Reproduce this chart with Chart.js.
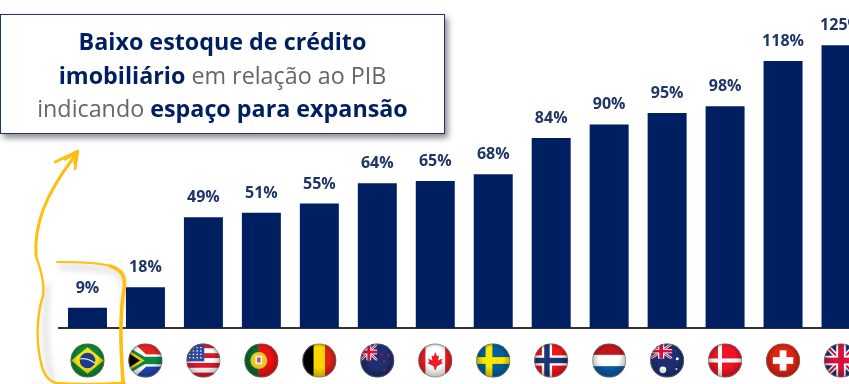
<!DOCTYPE html>
<html>
<head>
<meta charset="utf-8">
<script src="https://cdn.jsdelivr.net/npm/chart.js@4"></script>
<style>
  html, body { margin: 0; padding: 0; width: 849px; height: 384px; overflow: hidden; background: #fff; }
  #wrap { position: absolute; left: 0; top: 0; width: 900px; height: 384px; }
  #note {
    position: absolute; left: 0; top: 14px; width: 443px; height: 108px;
    border: 1px solid #1f3468; background: #fff; box-shadow: 3px 4px 6px rgba(0,0,0,.45);
    font: 23.3px/33.5px "Open Sans", sans-serif; color: #666; text-align: center;
    padding-top: 10px; white-space: nowrap;
  }
  #note b { color: #001f60; }
  #doodle { position: absolute; left: 0; top: 0; pointer-events: none; }
</style>
</head>
<body>
<div id="wrap">
  <canvas id="chart" width="900" height="384"></canvas>
</div>
<div id="note">
  <b>Baixo estoque de crédito</b><br>
  <b>imobiliário</b> em relação ao PIB<br>
  indicando <b>espaço para expansão</b>
</div>
<svg id="doodle" width="849" height="384" fill="none" stroke="#fdbf12" stroke-linecap="round" stroke-linejoin="round">
  <defs>
    <filter id="soft" x="-30%" y="-10%" width="170%" height="130%"><feGaussianBlur stdDeviation="3"/></filter>
  </defs>
  <!-- sombra do contorno -->
  <path stroke="#000" stroke-opacity=".22" stroke-width="3" filter="url(#soft)" d="M60 267 C85 267 105 268 116 272 C127 278 125 290 123 305 M47 285 C46 310 42 345 52 380"/>
  <path stroke-width="1.8" d="M57 262 C80 262 100 263 110 266"/>
  <path stroke-width="3.6" d="M110 266 C123 270 126 277 124 290 C120 310 120 340 123 382 L124 383"/>
  <path stroke-width="2.4" d="M123 383 C100 384 72 384 56 383 C46 380 42 372 39 352 C36 335 38 310 43 296 C45 282 40 268 36 256"/>
  <path stroke-width="3" d="M36 256 C34 225 45 195 74 157"/>
  <path stroke-width="2.6" d="M55 162 L78 151 L75 169"/>
  <path stroke-width="3.4" d="M65 159 L77 152 L75 163"/>
</svg>
<script>
const countries = ['Brasil', 'África do Sul', 'EUA', 'Portugal', 'Bélgica', 'Nova Zelândia', 'Canadá', 'Suécia', 'Noruega', 'Holanda', 'Austrália', 'Dinamarca', 'Suíça', 'Reino Unido'];
const creditoPib = [9, 18, 49, 51, 55, 64, 65, 68, 84, 90, 95, 98, 118, 125];

const NAVY = '#001f60';

// each flag drawn inside a unit circle, x and y from -1 to 1
function bands(c, cols, vertical) {
  const n = cols.length;
  cols.forEach((col, i) => {
    c.fillStyle = col;
    if (vertical) c.fillRect(-1 + 2 * i / n, -1, 2 / n + .01, 2);
    else c.fillRect(-1, -1 + 2 * i / n, 2, 2 / n + .01);
  });
}
function cross(c, bg, col, w, inner, w2, cx) {
  c.fillStyle = bg; c.fillRect(-1, -1, 2, 2);
  c.fillStyle = col; c.fillRect(-1, -w, 2, 2 * w); c.fillRect(cx - w, -1, 2 * w, 2);
  if (inner) { c.fillStyle = inner; c.fillRect(-1, -w2, 2, 2 * w2); c.fillRect(cx - w2, -1, 2 * w2, 2); }
}
function poly(c, col, pts) {
  c.fillStyle = col; c.beginPath();
  pts.forEach((p, i) => i ? c.lineTo(p[0], p[1]) : c.moveTo(p[0], p[1]));
  c.closePath(); c.fill();
}
function jack(c, x, y, w, h) {
  c.save(); c.translate(x, y); c.scale(w, h);
  c.beginPath(); c.rect(-1, -1, 2, 2); c.clip();
  c.fillStyle = '#1c2f72'; c.fillRect(-1, -1, 2, 2);
  c.lineWidth = .3; c.strokeStyle = '#fff';
  c.beginPath(); c.moveTo(-1, -1); c.lineTo(1, 1); c.moveTo(1, -1); c.lineTo(-1, 1); c.stroke();
  c.lineWidth = .12; c.strokeStyle = '#d4123c'; c.stroke();
  c.fillStyle = '#fff'; c.fillRect(-1, -.28, 2, .56); c.fillRect(-.28, -1, .56, 2);
  c.fillStyle = '#d4123c'; c.fillRect(-1, -.17, 2, .34); c.fillRect(-.17, -1, .34, 2);
  c.restore();
}
const flags = [
  c => { c.fillStyle = '#0f8a34'; c.fillRect(-1, -1, 2, 2);
    poly(c, '#f7e017', [[-.95, 0], [0, -.78], [.95, 0], [0, .78]]);
    c.fillStyle = '#1d3c8c'; c.beginPath(); c.arc(0, 0, .46, 0, 7); c.fill();
    c.strokeStyle = '#ddd'; c.lineWidth = .07; c.beginPath(); c.moveTo(-.44, -.1); c.quadraticCurveTo(0, -.15, .44, .15); c.stroke(); },
  c => { bands(c, ['#e8231f', '#fff', '#1f45b8'], false);
    poly(c, '#fff', [[-1, -1], [-.65, -1], [.05, -.36], [1, -.36], [1, .36], [.05, .36], [-.65, 1], [-1, 1]]);
    poly(c, '#0a8a40', [[-1, -.78], [-.05, -.22], [1, -.22], [1, .22], [-.05, .22], [-1, .78]]);
    poly(c, '#f5c518', [[-1, -.62], [-.05, 0], [-1, .62]]);
    poly(c, '#000', [[-1, -.44], [-.32, 0], [-1, .44]]); },
  c => { bands(c, ['#e0162b', '#fff', '#e0162b', '#fff', '#e0162b', '#fff', '#e0162b'], false);
    c.fillStyle = '#33499a'; c.fillRect(-1, -1, 1.05, 1.05);
    c.fillStyle = '#fff'; for (let i = 0; i < 4; i++) for (let j = 0; j < 4; j++) c.fillRect(-.85 + i * .22, -.8 + j * .2, .08, .08); },
  c => { c.fillStyle = '#0b6a2e'; c.fillRect(-1, -1, .85, 2); c.fillStyle = '#ee1111'; c.fillRect(-.15, -1, 1.15, 2);
    c.fillStyle = '#e8c91e'; c.beginPath(); c.arc(-.15, 0, .5, 0, 7); c.fill();
    c.fillStyle = '#eee'; c.fillRect(-.36, -.28, .42, .5); c.fillStyle = '#c8505a'; c.fillRect(-.25, -.18, .2, .3); },
  c => bands(c, ['#000', '#fdd800', '#e2231a'], true),
  c => { c.fillStyle = '#1c2f72'; c.fillRect(-1, -1, 2, 2); jack(c, -.5, -.5, .5, .5);
    c.fillStyle = '#d4123c'; [[.4, .05], [.25, -.35], [.65, -.3], [.42, .55]].forEach(p => c.fillRect(p[0] - .06, p[1] - .06, .12, .12)); },
  c => { c.fillStyle = '#fff'; c.fillRect(-1, -1, 2, 2); c.fillStyle = '#ef1c24'; c.fillRect(-1, -1, .42, 2); c.fillRect(.58, -1, .42, 2);
    poly(c, '#ef1c24', [[0, -.5], [.1, -.25], [.22, -.3], [.17, 0], [.42, -.12], [.36, .08], [.44, .16], [.1, .34], [.04, .55], [-.04, .55], [-.1, .34], [-.44, .16], [-.36, .08], [-.42, -.12], [-.17, 0], [-.22, -.3], [-.1, -.25]]); },
  c => cross(c, '#00609c', '#fde600', .2, null, 0, -.25),
  c => cross(c, '#f01414', '#fff', .3, '#1c3578', .16, -.25),
  c => bands(c, ['#c4141c', '#fff', '#0a5aa6'], false),
  c => { c.fillStyle = '#1c2f72'; c.fillRect(-1, -1, 2, 2); jack(c, -.35, -.55, .65, .45);
    c.fillStyle = '#fff'; [[.6, -.1, .09], [-.25, .55, .2], [.55, .5, .06]].forEach(s => { c.beginPath(); c.arc(s[0], s[1], s[2], 0, 7); c.fill(); }); },
  c => cross(c, '#f01424', '#fff', .12, null, 0, -.3),
  c => { c.fillStyle = '#e02410'; c.fillRect(-1, -1, 2, 2); c.fillStyle = '#fff'; c.fillRect(-.6, -.2, 1.2, .4); c.fillRect(-.2, -.6, .4, 1.2); },
  c => jack(c, 0, 0, 1, 1)
];

const flagPlugin = {
  id: 'flagTicks',
  afterDraw(chart) {
    const c = chart.ctx, xs = chart.scales.x, r = 17, y = 360.5;
    countries.forEach((name, i) => {
      const x = xs.getPixelForTick(i);
      c.save();
      c.translate(x, y);
      c.beginPath(); c.arc(0, 0, r, 0, Math.PI * 2); c.fillStyle = '#fff'; c.fill();
      c.save(); c.clip(); c.scale(r, r); flags[i](c);
      const gloss = c.createRadialGradient(0, -.2, .6, 0, 0, 1);
      gloss.addColorStop(0, 'rgba(0,0,0,0)');
      gloss.addColorStop(1, 'rgba(0,0,0,.28)');
      c.fillStyle = gloss; c.fillRect(-1, -1, 2, 2);
      c.restore();
      c.beginPath(); c.arc(0, 0, r - .5, 0, Math.PI * 2); c.lineWidth = 1; c.strokeStyle = 'rgba(120,120,120,.6)'; c.stroke();
      c.restore();
    });
  }
};

const labelPlugin = {
  id: 'valueLabels',
  afterDatasetsDraw(chart) {
    const c = chart.ctx, bars = chart.getDatasetMeta(0).data;
    c.save();
    c.font = 'bold 16px "Open Sans", sans-serif';
    c.fillStyle = '#1f3468';
    c.textAlign = 'center';
    c.textBaseline = 'alphabetic';
    bars.forEach((b, i) => c.fillText(creditoPib[i] + '%', b.x, b.y - 15));
    c.restore();
  }
};

new Chart(document.getElementById('chart'), {
  type: 'bar',
  data: { labels: countries, datasets: [{ data: creditoPib, backgroundColor: NAVY, barPercentage: 1, categoryPercentage: 39 / 58 }] },
  options: {
    responsive: false,
    animation: false,
    layout: { padding: { left: 58.5, right: 30, top: 0, bottom: 0 } },
    plugins: { legend: { display: false }, tooltip: { enabled: false } },
    scales: {
      x: {
        afterFit(s) { s.height = 56; },
        grid: { display: false, drawTicks: false },
        border: { display: true, color: '#333', width: 2 },
        ticks: { display: false }
      },
      y: {
        display: false, min: 0, max: 145
      }
    }
  },
  plugins: [flagPlugin, labelPlugin]
});
</script>
</body>
</html>
